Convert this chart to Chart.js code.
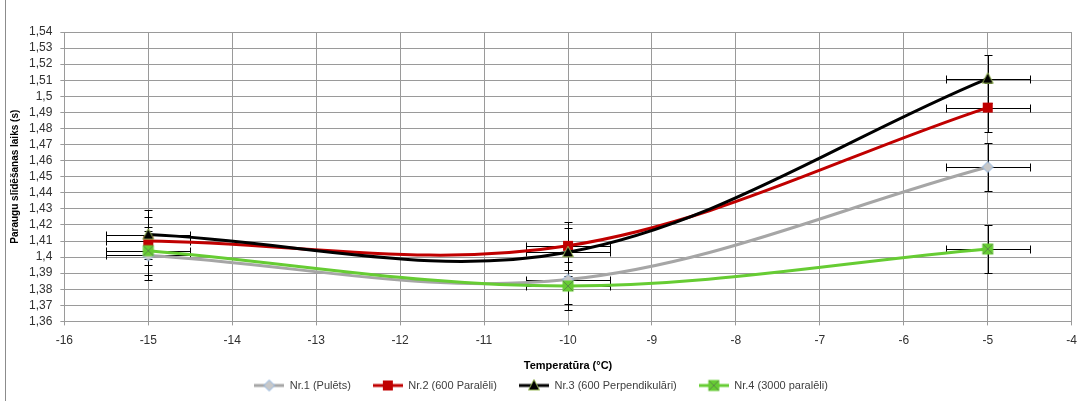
<!DOCTYPE html>
<html>
<head>
<meta charset="utf-8">
<script src="https://cdn.jsdelivr.net/npm/chart.js@4.4.0/dist/chart.umd.min.js"></script>
<style>
    html, body { margin: 0; padding: 0; background: #fff; }
    #wrap { position: relative; width: 1085px; height: 401px; }
    #frame { position: absolute; left: 5px; top: 0; width: 1px; height: 401px; background: #8c8c8c; }
    canvas { position: absolute; left: 0; top: 0; }
</style>
</head>
<body>
<div id="wrap">
    <div id="frame"></div>
    <canvas id="grafico" width="1085" height="401"></canvas>
</div>
<script>
// Temperatūras (x) un mērījumi (y)
const temperaturas = [-15, -10, -5];
const nr1 = [1.401, 1.386, 1.456];
const nr2 = [1.410, 1.407, 1.493];
const nr3 = [1.414, 1.403, 1.511];
const nr4 = [1.404, 1.382, 1.405];

// Kļūdu robežas
const xKluda = [0.5, 0.5, 0.5];
const yKluda = [0.015, 0.015, 0.015];

// Asu iedaļas
const xIedalas = [-16, -15, -14, -13, -12, -11, -10, -9, -8, -7, -6, -5, -4];
const yIedalas = [1.36, 1.37, 1.38, 1.39, 1.40, 1.41, 1.42, 1.43, 1.44, 1.45, 1.46, 1.47, 1.48, 1.49, 1.50, 1.51, 1.52, 1.53, 1.54];

const nosaukumi = ['Nr.1 (Pulēts)', 'Nr.2 (600 Paralēli)', 'Nr.3 (600 Perpendikulāri)', 'Nr.4 (3000 paralēli)'];

// Marķieru zīmēšana uz atsevišķa canvas
function zimetMarkieri(ctx, tips, cx, cy) {
    ctx.lineWidth = 1;
    if (tips === 'rombs') {
        ctx.beginPath();
        ctx.moveTo(cx, cy - 5.5); ctx.lineTo(cx + 5.5, cy); ctx.lineTo(cx, cy + 5.5); ctx.lineTo(cx - 5.5, cy);
        ctx.closePath();
        ctx.fillStyle = '#c8c8c8'; ctx.fill();
        ctx.strokeStyle = '#8db4e2'; ctx.stroke();
    } else if (tips === 'kvadrats') {
        ctx.fillStyle = '#c00000';
        ctx.fillRect(cx - 5, cy - 5, 10, 10);
    } else if (tips === 'trijsturis') {
        ctx.beginPath();
        ctx.moveTo(cx, cy - 6); ctx.lineTo(cx + 5.5, cy + 4.5); ctx.lineTo(cx - 5.5, cy + 4.5);
        ctx.closePath();
        ctx.fillStyle = '#000'; ctx.fill();
        ctx.strokeStyle = '#9bbb59'; ctx.stroke();
    } else if (tips === 'krusts') {
        ctx.fillStyle = '#66cc33';
        ctx.fillRect(cx - 5.5, cy - 5.5, 11, 11);
        ctx.strokeStyle = '#5a8a46';
        ctx.beginPath();
        ctx.moveTo(cx - 5, cy - 5); ctx.lineTo(cx + 5, cy + 5);
        ctx.moveTo(cx + 5, cy - 5); ctx.lineTo(cx - 5, cy + 5);
        ctx.stroke();
    }
}

function taisitMarkieri(tips) {
    const c = document.createElement('canvas');
    c.width = 14; c.height = 14;
    zimetMarkieri(c.getContext('2d'), tips, 7, 7);
    return c;
}

function taisitLegendasIkonu(tips, krasa) {
    const c = document.createElement('canvas');
    c.width = 30; c.height = 14;
    const ctx = c.getContext('2d');
    ctx.strokeStyle = krasa; ctx.lineWidth = 3;
    ctx.beginPath(); ctx.moveTo(0, 7); ctx.lineTo(30, 7); ctx.stroke();
    zimetMarkieri(ctx, tips, 15, 7);
    return c;
}

const tipi = ['rombs', 'kvadrats', 'trijsturis', 'krusts'];
const krasas = ['#a6a6a6', '#c00000', '#000000', '#66cc33'];
const legendasIkonas = tipi.map((t, i) => taisitLegendasIkonu(t, krasas[i]));

function punkti(vertibas) {
    return temperaturas.map((t, i) => ({ x: t, y: vertibas[i] }));
}

// Kļūdu joslas zīmē zem līnijām
const kludasPlugin = {
    id: 'kludas',
    beforeDatasetsDraw(chart) {
        const ctx = chart.ctx;
        const xs = chart.scales.x, ys = chart.scales.y;
        ctx.save();
        ctx.strokeStyle = '#000';
        ctx.lineWidth = 1;
        chart.data.datasets.forEach(ds => {
            ds.data.forEach((p, i) => {
                const cx = Math.round(xs.getPixelForValue(p.x)) + 0.5;
                const cy = Math.round(ys.getPixelForValue(p.y)) + 0.5;
                const x1 = Math.round(xs.getPixelForValue(p.x - xKluda[i])) + 0.5;
                const x2 = Math.round(xs.getPixelForValue(p.x + xKluda[i])) + 0.5;
                const y1 = Math.round(ys.getPixelForValue(p.y + yKluda[i])) + 0.5;
                const y2 = Math.round(ys.getPixelForValue(p.y - yKluda[i])) + 0.5;
                ctx.beginPath();
                ctx.moveTo(x1, cy); ctx.lineTo(x2, cy);
                ctx.moveTo(x1, cy - 4); ctx.lineTo(x1, cy + 4);
                ctx.moveTo(x2, cy - 4); ctx.lineTo(x2, cy + 4);
                ctx.moveTo(cx, y1); ctx.lineTo(cx, y2);
                ctx.moveTo(cx - 4, y1); ctx.lineTo(cx + 4, y1);
                ctx.moveTo(cx - 4, y2); ctx.lineTo(cx + 4, y2);
                ctx.stroke();
            });
        });
        ctx.restore();
    }
};

const serijas = [nr1, nr2, nr3, nr4];
const ctxGrafiks = document.getElementById('grafico').getContext('2d');
new Chart(ctxGrafiks, {
    type: 'scatter',
    data: {
        datasets: serijas.map((s, i) => ({
            label: nosaukumi[i],
            data: punkti(s),
            showLine: true,
            borderColor: krasas[i],
            backgroundColor: krasas[i],
            borderWidth: 3,
            tension: 0.35,
            pointStyle: taisitMarkieri(tipi[i]),
            pointRadius: 6,
            pointHoverRadius: 6,
            order: 4 - i
        }))
    },
    options: {
        responsive: false,
        animation: false,
        layout: { padding: { left: 9, right: 12, top: 32, bottom: 0 } },
        plugins: {
            tooltip: { enabled: false },
            legend: {
                position: 'bottom',
                labels: {
                    usePointStyle: true,
                    pointStyleWidth: 30,
                    padding: 22,
                    color: '#404040',
                    font: { family: 'Liberation Sans', size: 11 },
                    sort: (a, b) => a.datasetIndex - b.datasetIndex,
                    generateLabels(chart) {
                        const items = Chart.defaults.plugins.legend.labels.generateLabels(chart);
                        items.forEach(it => { it.pointStyle = legendasIkonas[it.datasetIndex]; });
                        return items;
                    }
                }
            }
        },
        scales: {
            x: {
                type: 'linear',
                min: -16,
                max: -4,
                afterBuildTicks(scale) { scale.ticks = xIedalas.map(v => ({ value: v })); },
                grid: { color: '#9a9a9a', tickLength: 4 },
                border: { color: '#9a9a9a' },
                ticks: { color: '#303030', font: { family: 'Liberation Sans', size: 12 }, padding: 8, autoSkip: false, maxRotation: 0 },
                title: {
                    display: true,
                    text: 'Temperatūra (°C)',
                    color: '#000',
                    font: { family: 'Liberation Sans', size: 11, weight: 'bold' },
                    padding: { top: 4, bottom: -15 }
                }
            },
            y: {
                type: 'linear',
                min: 1.36,
                max: 1.54,
                afterBuildTicks(scale) { scale.ticks = yIedalas.map(v => ({ value: v })); },
                grid: { color: '#9a9a9a', tickLength: 4 },
                border: { color: '#9a9a9a' },
                ticks: {
                    color: '#303030',
                    font: { family: 'Liberation Sans', size: 12 },
                    padding: 8,
                    autoSkip: false,
                    callback: v => Number(v.toFixed(2)).toString().replace('.', ',')
                },
                title: {
                    display: true,
                    text: 'Paraugu slīdēšanas laiks (s)',
                    color: '#000',
                    font: { family: 'Liberation Sans', size: 10, weight: 'bold' },
                    padding: { top: 0, bottom: 0 }
                }
            }
        }
    },
    plugins: [kludasPlugin]
});
</script>
</body>
</html>
